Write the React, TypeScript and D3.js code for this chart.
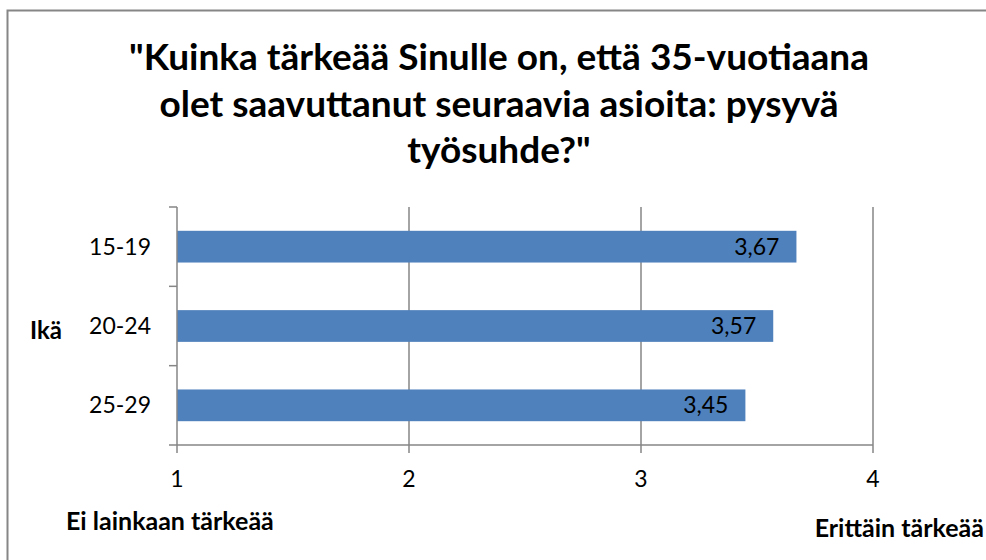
import React from "react";
import * as d3 from "d3";

const categories = ["15-19", "20-24", "25-29"];
const values = [3.67, 3.57, 3.45];
const xTicks = [1, 2, 3, 4];
const titleLines = [
  "\"Kuinka tärkeää Sinulle on, että 35-vuotiaana",
  "olet saavuttanut seuraavia asioita: pysyvä",
  "työsuhde?\"",
];

const W = 986;
const H = 560;
const FONT = "Lato, 'Open Sans', sans-serif";

export default function App() {
  const x = d3.scaleLinear().domain([1, 4]).range([177, 873]);
  const y = d3.scaleBand().domain(categories).range([207, 445]).paddingInner(0.6).paddingOuter(0.3);
  const bandEdges = d3.range(categories.length + 1).map((i) => 207 + (i * (445 - 207)) / categories.length);
  const fmt = (v: number) => d3.format(".2f")(v).replace(".", ",");
  const axisColor = "#868686";

  return (
    <svg width={W} height={H} style={{ position: "absolute", left: 0, top: 0, background: "#fff" }} fontFamily={FONT}>
      <rect x={7.5} y={10.5} width={W + 10} height={H + 10} fill="#fff" stroke={axisColor} strokeWidth={2} />
      {titleLines.map((t, i) => (
        <text key={i} x={499} y={70 + i * 46.5} textAnchor="middle" fontSize={37} fontWeight={700} fill="#000">
          {t}
        </text>
      ))}
      {/* vertical gridlines */}
      {xTicks.slice(1).map((t) => (
        <line key={t} x1={x(t)} x2={x(t)} y1={207} y2={453} stroke={axisColor} strokeWidth={1.5} />
      ))}
      {/* bars */}
      {categories.map((c, i) => (
        <rect key={c} x={x(1)} y={y(c)!} width={x(values[i]) - x(1)} height={y.bandwidth()} fill="#4f81bd" />
      ))}
      {/* y axis */}
      <line x1={x(1)} x2={x(1)} y1={207} y2={453} stroke={axisColor} strokeWidth={1.5} />
      {bandEdges.map((e, i) => (
        <line key={i} x1={169} x2={x(1)} y1={e} y2={e} stroke={axisColor} strokeWidth={1.5} />
      ))}
      {/* x axis */}
      <line x1={x(1)} x2={x(4)} y1={445} y2={445} stroke={axisColor} strokeWidth={1.5} />
      {xTicks.map((t) => (
        <text key={t} x={x(t)} y={487} textAnchor="middle" fontSize={23} fill="#000">
          {t}
        </text>
      ))}
      {categories.map((c) => (
        <text key={c} x={151} y={y(c)! + y.bandwidth() / 2 + 8} textAnchor="end" fontSize={23} fill="#000">
          {c}
        </text>
      ))}
      {categories.map((c, i) => (
        <text key={c} x={x(values[i]) - 17} y={y(c)! + y.bandwidth() / 2 + 8} textAnchor="end" fontSize={23} fill="#000">
          {fmt(values[i])}
        </text>
      ))}
      <text x={30} y={339} fontSize={24} fontWeight={700} fill="#000">Ikä</text>
      <text x={66} y={530} fontSize={25} fontWeight={700} fill="#000">Ei lainkaan tärkeää</text>
      <text x={984} y={537} textAnchor="end" fontSize={25} fontWeight={700} fill="#000">Erittäin tärkeää</text>
    </svg>
  );
}
